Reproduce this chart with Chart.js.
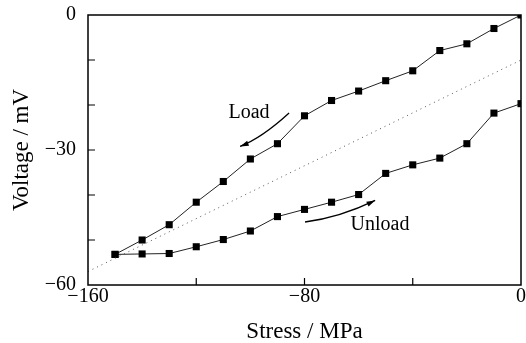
<!DOCTYPE html>
<html>
<head>
<meta charset="utf-8">
<script src="https://cdn.jsdelivr.net/npm/chart.js@4"></script>
<style>
  html, body { margin: 0; padding: 0; background: #fff; }
  #wrap { width: 526px; height: 343px; }
</style>
</head>
<body>
<div id="wrap"><canvas id="grafico"></canvas></div>
<script>
// dados
var stress = [-150, -140, -130, -120, -110, -100, -90, -80, -70, -60, -50, -40, -30, -20, -10, 0];
var loadVoltage = [-53.2, -50, -46.6, -41.6, -37, -32, -28.6, -22.4, -19, -16.9, -14.6, -12.4, -7.9, -6.4, -3, 0];
var unloadVoltage = [-53.2, -53.1, -53.0, -51.5, -49.9, -48.0, -44.8, -43.2, -41.6, -39.9, -35.2, -33.3, -31.8, -28.6, -21.8, -19.7];
var refStress = [-160, 0];
var refVoltage = [-57, -10];

var serif = "'Liberation Serif', 'DejaVu Serif', serif";

function pts(xs, ys) {
    return xs.map(function (x, i) { return { x: x, y: ys[i] }; });
}
function minus(v) { return String(v).replace('-', '\u2212'); }

// moldura, ticks para dentro, setas e textos
var extras = {
    id: 'extras',
    afterDraw: function (chart) {
        var c = chart.ctx, a = chart.chartArea;
        var sx = chart.scales.x, sy = chart.scales.y;
        c.save();
        c.strokeStyle = '#000';
        c.lineWidth = 1.5;
        c.strokeRect(a.left, a.top, a.right - a.left, a.bottom - a.top);
        c.lineWidth = 1.2;
        c.beginPath();
        [-50, -40, -30, -20, -10].forEach(function (v) {
            var y = sy.getPixelForValue(v);
            c.moveTo(a.left, y); c.lineTo(a.left + 7, y);
        });
        [-120, -80, -40].forEach(function (v) {
            var x = sx.getPixelForValue(v);
            c.moveTo(x, a.bottom); c.lineTo(x, a.bottom - 7);
        });
        c.stroke();

        function P(x, y) { return [sx.getPixelForValue(x), sy.getPixelForValue(y)]; }
        function arrow(s, k, e) {
            c.beginPath();
            c.moveTo(s[0], s[1]);
            c.quadraticCurveTo(k[0], k[1], e[0], e[1]);
            c.lineWidth = 1.3;
            c.stroke();
            var ang = Math.atan2(e[1] - k[1], e[0] - k[0]);
            c.beginPath();
            c.moveTo(e[0], e[1]);
            c.lineTo(e[0] - 9 * Math.cos(ang - 0.3), e[1] - 9 * Math.sin(ang - 0.3));
            c.lineTo(e[0] - 9 * Math.cos(ang + 0.3), e[1] - 9 * Math.sin(ang + 0.3));
            c.closePath();
            c.fill();
        }
        c.fillStyle = '#000';
        arrow(P(-85.7, -21.8), P(-95.9, -27.4), P(-103.8, -29.2));
        arrow(P(-79.8, -46.0), P(-66.9, -45.0), P(-53.9, -41.2));

        c.font = '20px ' + serif;
        c.textAlign = 'center';
        c.textBaseline = 'middle';
        var t1 = P(-100.5, -21.8), t2 = P(-52.1, -46.5);
        c.fillText('Load', t1[0], t1[1]);
        c.fillText('Unload', t2[0], t2[1]);
        c.restore();
    }
};

var myChart = new Chart(document.getElementById('grafico'), {
    type: 'line',
    data: {
        datasets: [
            {
                data: pts(refStress, refVoltage),
                borderColor: '#555',
                borderWidth: 1,
                borderDash: [1, 4],
                pointRadius: 0
            },
            {
                label: 'Load',
                data: pts(stress, loadVoltage),
                borderColor: '#222',
                borderWidth: 1,
                pointStyle: 'rect',
                pointRadius: 5,
                pointBackgroundColor: '#000',
                pointBorderWidth: 0
            },
            {
                label: 'Unload',
                data: pts(stress, unloadVoltage),
                borderColor: '#222',
                borderWidth: 1,
                pointStyle: 'rect',
                pointRadius: 5,
                pointBackgroundColor: '#000',
                pointBorderWidth: 0
            }
        ]
    },
    options: {
        responsive: true,
        maintainAspectRatio: false,
        animation: false,
        layout: { padding: { top: 15, right: 4, left: 0, bottom: 0 } },
        plugins: {
            legend: { display: false },
            tooltip: { enabled: false }
        },
        scales: {
            x: {
                type: 'linear',
                min: -160,
                max: 0,
                grid: { display: false },
                border: { display: false },
                ticks: {
                    stepSize: 80,
                    color: '#000',
                    padding: -8,
                    maxRotation: 0,
                    font: { family: serif, size: 20 },
                    callback: function (v) { return minus(v); }
                },
                title: {
                    display: true,
                    text: 'Stress / MPa',
                    color: '#000',
                    font: { family: serif, size: 23 },
                    padding: { top: 0, bottom: -3 }
                },
                afterFit: function (s) { s.height = 58; s.paddingLeft = 0; s.paddingRight = 0; }
            },
            y: {
                min: -60,
                max: 0,
                grid: { display: false },
                border: { display: false },
                ticks: {
                    stepSize: 30,
                    color: '#000',
                    padding: 4,
                    font: { family: serif, size: 20 },
                    callback: function (v) { return minus(v); }
                },
                title: {
                    display: true,
                    text: 'Voltage / mV',
                    color: '#000',
                    font: { family: serif, size: 23 },
                    padding: { top: 8, bottom: 0 }
                },
                afterFit: function (s) { s.width = 88; s.paddingTop = 0; s.paddingBottom = 0; }
            }
        }
    },
    plugins: [extras]
});
</script>
</body>
</html>
